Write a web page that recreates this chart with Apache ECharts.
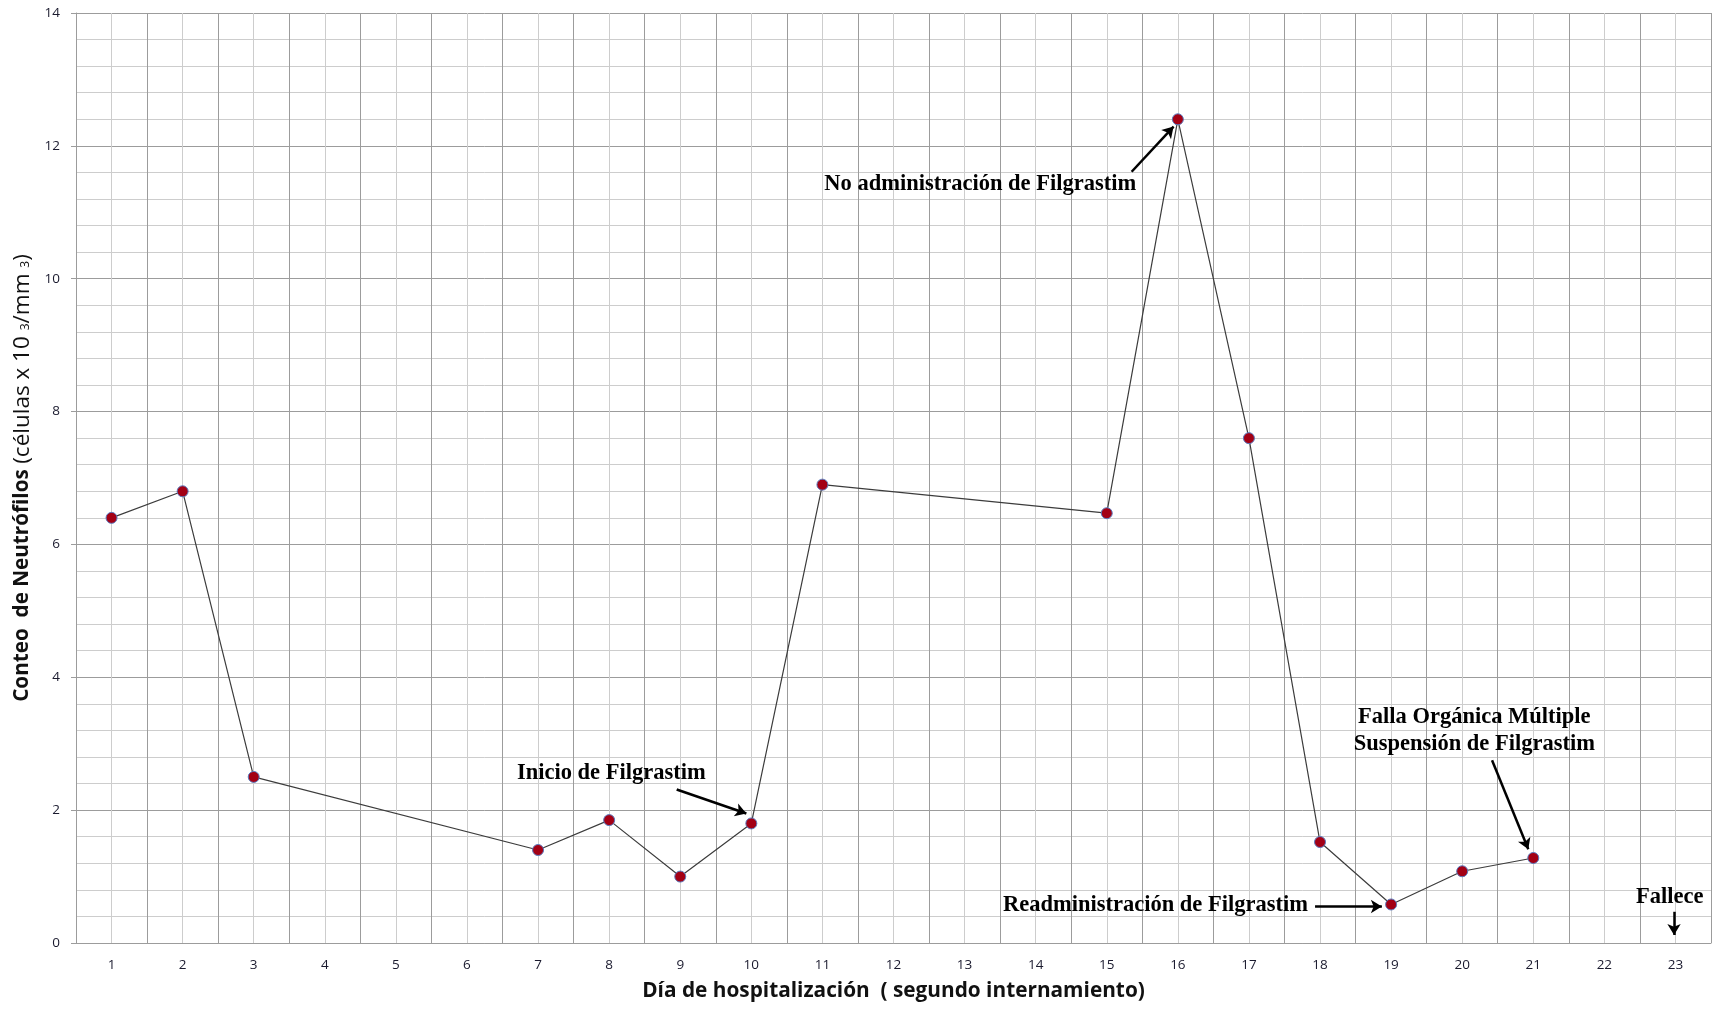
<!DOCTYPE html>
<html>
<head>
<meta charset="utf-8">
<script src="https://cdn.jsdelivr.net/npm/echarts@6/dist/echarts.min.js"></script>
<style>
html,body{margin:0;padding:0;background:#fff;}
#chart{width:1717px;height:1010px;}
</style>
</head>
<body>
<div id="chart"></div>
<script>
// Data
const days = [1, 2, 3, 7, 8, 9, 10, 11, 15, 16, 17, 18, 19, 20, 21];
const neutrophils = [6.4, 6.8, 2.5, 1.4, 1.85, 1.0, 1.8, 6.9, 6.47, 12.4, 7.6, 1.52, 0.58, 1.08, 1.28];
const xTickLabels = ['1','2','3','4','5','6','7','8','9','10','11','12','13','14','15','16','17','18','19','20','21','22','23'];
const yTicks = [0, 2, 4, 6, 8, 10, 12, 14];
const annotations = [
  {text: 'No administración de Filgrastim', at: [13.22, 11.43], align: 'center'},
  {text: 'Inicio de Filgrastim', at: [8.03, 2.56], align: 'center'},
  {text: 'Falla Orgánica Múltiple\nSuspensión de Filgrastim', at: [20.17, 3.19], align: 'center'},
  {text: 'Readministración de Filgrastim', at: [17.83, 0.57], align: 'right'},
  {text: 'Fallece', at: [22.92, 0.69], align: 'center'}
];
const arrows = [
  [[15.35, 11.61], [15.94, 12.29]],
  [[8.95, 2.31], [9.93, 1.95]],
  [[20.42, 2.75], [20.93, 1.41]],
  [[17.93, 0.55], [18.87, 0.55]],
  [[22.98, 0.47], [22.98, 0.12]]
];

const MAJOR = '#9c9c9c', MINOR = '#cdcdcd';
const chart = echarts.init(document.getElementById('chart'));
chart.setOption({
  animation: false,
  backgroundColor: '#ffffff',
  grid: {left: 76, right: 6, top: 13, bottom: 67},
  xAxis: {
    type: 'value', min: 0.5, max: 23.5, interval: 0.5,
    axisLine: {show: true, lineStyle: {color: MAJOR, width: 1}},
    axisTick: {show: false},
    axisLabel: {
      margin: 15, color: '#1a1a2e', fontFamily: 'Open Sans', fontSize: 13.5,
      formatter: v => Number.isInteger(v) ? xTickLabels[v - 1] : ''
    },
    splitLine: {show: true, lineStyle: {color: [MAJOR, MINOR], width: 1}},
    name: 'Día de hospitalización  ( segundo internamiento)',
    nameLocation: 'middle', nameGap: 38,
    nameTextStyle: {fontFamily: 'Open Sans', fontWeight: 'bold', fontSize: 20.8, color: '#111'}
  },
  yAxis: {
    type: 'value', min: 0, max: 14, interval: 2,
    axisLine: {show: true, lineStyle: {color: MAJOR, width: 1}},
    axisTick: {show: true, length: 5, lineStyle: {color: MAJOR}},
    axisLabel: {
      margin: 16, color: '#1a1a2e', fontFamily: 'Open Sans', fontSize: 13.5,
      formatter: v => yTicks.includes(v) ? String(v) : ''
    },
    splitLine: {show: true, lineStyle: {color: MAJOR, width: 1}},
    minorTick: {show: false, splitNumber: 5},
    minorSplitLine: {show: true, lineStyle: {color: MINOR, width: 1}},
    name: '{b|Conteo  de Neutrófilos} {n|(células x 10 }{s|3}{n|/mm }{s|3}{n|)}',
    nameLocation: 'middle', nameGap: 34, nameRotate: 90,
    nameTextStyle: {
      fontFamily: 'Open Sans', fontSize: 21, color: '#111',
      rich: {
        b: {fontFamily: 'Open Sans', fontWeight: 'bold', fontSize: 20.7, color: '#111'},
        n: {fontFamily: 'Open Sans', fontWeight: 'normal', fontSize: 22.5, color: '#111'},
        s: {fontFamily: 'Open Sans', fontWeight: 'normal', fontSize: 12, color: '#111', padding: [6, 0, 0, 0]}
      }
    }
  },
  series: [{
    type: 'line',
    data: days.map((d, i) => [d, neutrophils[i]]),
    symbol: 'circle', symbolSize: 11,
    lineStyle: {color: '#3c3c3c', width: 1.2},
    itemStyle: {color: '#a30015', borderColor: '#5a7bbf', borderWidth: 1},
    z: 5,
    markLine: {
      silent: true,
      symbol: ['none', 'arrow'], symbolSize: [10, 11],
      lineStyle: {color: '#000', width: 2.5, type: 'solid'},
      label: {show: false},
      data: arrows.map(a => [{coord: a[0]}, {coord: a[1]}])
    },
    markPoint: {
      silent: true,
      symbol: 'circle', symbolSize: 1,
      itemStyle: {color: 'rgba(0,0,0,0)'},
      data: annotations.map(a => ({
        coord: a.at,
        label: {
          show: true, position: 'inside', formatter: a.text, align: a.align,
          fontFamily: 'Liberation Serif', fontWeight: 'bold', fontSize: 22.5,
          color: '#000', lineHeight: 27
        }
      }))
    }
  }]
});
</script>
</body>
</html>
